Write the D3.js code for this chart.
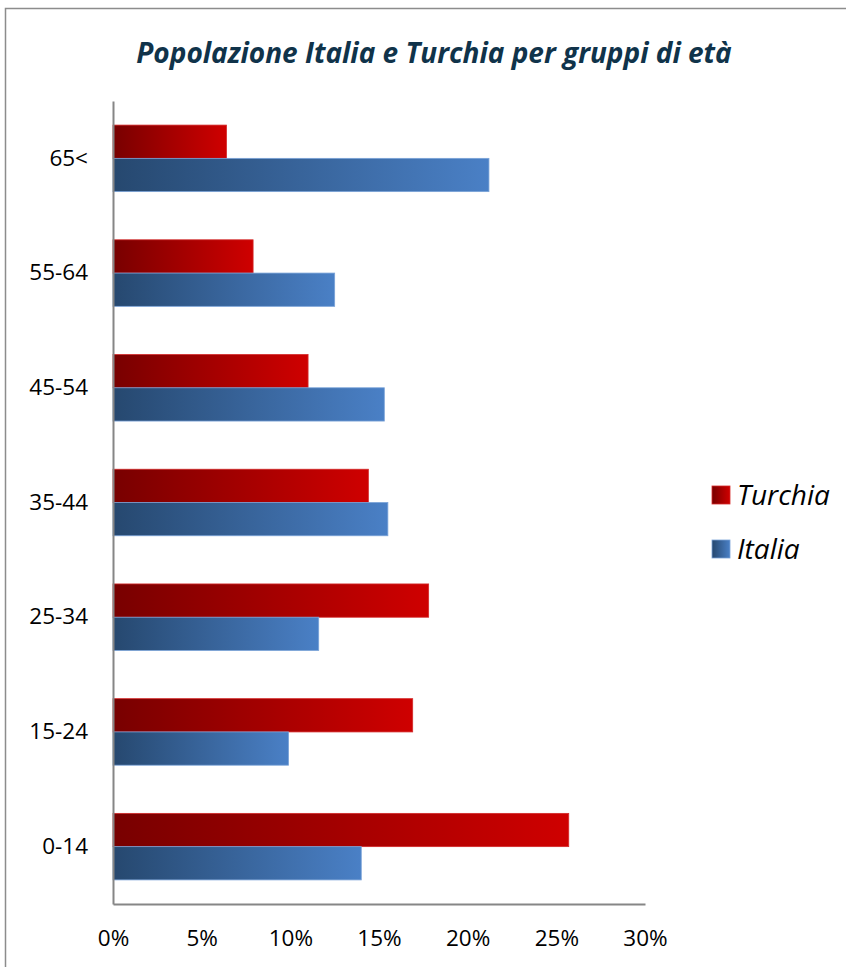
<!DOCTYPE html>
<html><head><meta charset="utf-8">
<script src="https://cdn.jsdelivr.net/npm/d3@7"></script>
<style>body{margin:0;background:#fff}svg{display:block}</style>
</head><body>
<script>
const categories = ["65<","55-64","45-54","35-44","25-34","15-24","0-14"];
const turchia = [6.4, 7.9, 11.0, 14.4, 17.8, 16.9, 25.7];
const italia = [21.2, 12.5, 15.3, 15.5, 11.6, 9.9, 14.0];
const tickValues = [0,5,10,15,20,25,30];
const seriesNames = ["Turchia","Italia"];

const W=846,H=967;
const svg=d3.select("body").append("svg").attr("width",W).attr("height",H);
const defs=svg.append("defs");
function grad(id,c0,c1){
  const g=defs.append("linearGradient").attr("id",id).attr("x1","0").attr("x2","1").attr("y1","0").attr("y2","0");
  g.append("stop").attr("offset","0").attr("stop-color",c0);
  g.append("stop").attr("offset","1").attr("stop-color",c1);
}
grad("gT","#780000","#cf0000");
grad("gI","#26486f","#4a80c6");

svg.append("rect").attr("x",5.5).attr("y",8.5).attr("width",W+20).attr("height",H+20)
  .attr("fill","none").attr("stroke","#8c8c8c").attr("stroke-width",1.5);

svg.append("text").attr("x",434).attr("y",63).attr("text-anchor","middle")
  .attr("font-family","Open Sans, sans-serif").attr("font-style","italic").attr("font-weight","bold")
  .attr("font-size",28).attr("fill","#10334a").text("Popolazione Italia e Turchia per gruppi di età");

const x=d3.scaleLinear().domain([0,30]).range([113,645]);
const y=d3.scaleBand().domain(categories).range([101,904]).paddingInner(0.42).paddingOuter(0.21);
const bh=y.bandwidth()/2;

const g=svg.append("g");
categories.forEach((c,i)=>{
  g.append("rect").attr("x",x(0)).attr("y",y(c)).attr("width",x(turchia[i])-x(0)).attr("height",bh)
    .attr("fill","url(#gT)").attr("stroke","#d42a2a").attr("stroke-width",0.8);
  g.append("rect").attr("x",x(0)).attr("y",y(c)+bh).attr("width",x(italia[i])-x(0)).attr("height",bh)
    .attr("fill","url(#gI)").attr("stroke","#7aa3d8").attr("stroke-width",0.8);
});

// axes
const xa=svg.append("g").attr("transform","translate(0,904)")
  .call(d3.axisBottom(x).tickValues(tickValues).tickFormat(d=>d+"%").tickSize(0).tickPadding(26));
xa.select(".domain").attr("stroke","#868686").attr("stroke-width",2);
xa.selectAll("text").attr("font-family","Open Sans, sans-serif").attr("font-size",22.5).attr("fill","#000");

const ya=svg.append("g").attr("transform","translate(113,0)")
  .call(d3.axisLeft(y).tickSize(0).tickPadding(25));
ya.select(".domain").attr("stroke","#868686").attr("stroke-width",2);
ya.selectAll("text").attr("font-family","Open Sans, sans-serif").attr("font-size",22.5).attr("fill","#000");

// legend
const lg=svg.append("g");
seriesNames.forEach((n,i)=>{
  const yy=495+i*54;
  lg.append("rect").attr("x",712).attr("y",yy-9).attr("width",18).attr("height",18)
    .attr("fill",i===0?"url(#gT)":"url(#gI)").attr("stroke",i===0?"#d42a2a":"#7aa3d8").attr("stroke-width",0.8);
  lg.append("text").attr("x",737).attr("y",yy).attr("dy","0.35em")
    .attr("font-family","Open Sans, sans-serif").attr("font-style","italic").attr("font-size",28).attr("fill","#000").text(n);
});
</script>
</body></html>
